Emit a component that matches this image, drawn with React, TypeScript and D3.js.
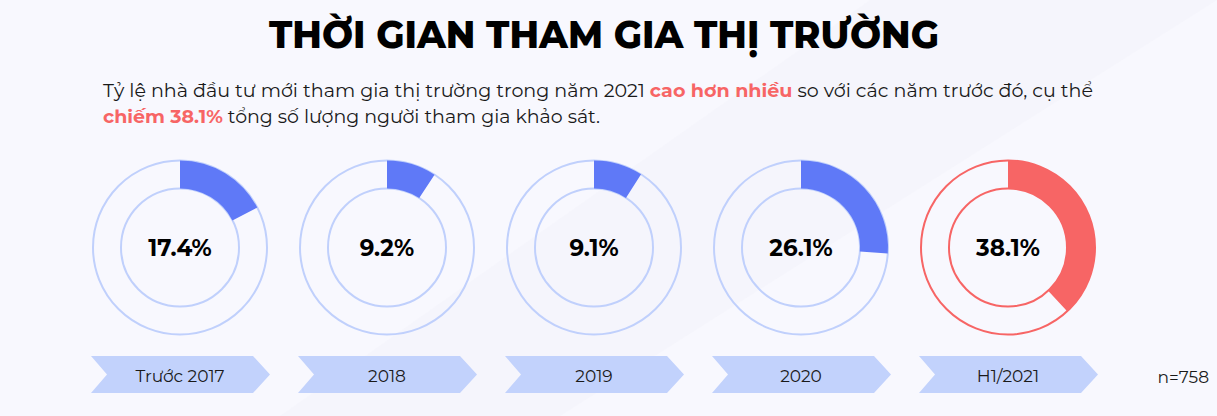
import React from "react";
import * as d3 from "d3";

const categories = ["Trước 2017", "2018", "2019", "2020", "H1/2021"];
const values = [17.4, 9.2, 9.1, 26.1, 38.1];
const highlight = [false, false, false, false, true];
const titleText = "THỜI GIAN THAM GIA THỊ TRƯỜNG";
const sampleLabel = "n=758";

const W = 1217;
const H = 416;
const FONT = "Montserrat, 'Open Sans', 'Noto Sans', sans-serif";

export default function App() {
  const x = d3.scalePoint<string>().domain(categories).range([180, 1008]);
  const angle = d3.scaleLinear().domain([0, 100]).range([0, 2 * Math.PI]);
  const rOuter = 87;
  const rInner = 59;
  const cy = 247.5;
  const arc = d3.arc<any>().innerRadius(rInner).outerRadius(rOuter);
  const blueLine = "#c0d0fc";
  const blueFill = "#5f79f7";
  const redLine = "#f76565";
  const redFill = "#f76565";
  const bannerFill = "#c2d2fc";

  const bw = 179, bh = 37, notch = 16, tip = 17;
  const bannerPath = (cx: number) => {
    const l = cx - 89, r = l + bw, t = 356, b = t + bh, m = (t + b) / 2;
    return `M${l},${t} L${r - tip},${t} L${r},${m} L${r - tip},${b} L${l},${b} L${l + notch},${m} Z`;
  };

  return (
    <svg width={W} height={H} style={{ position: "absolute", left: 0, top: 0 }}>
      <rect width={W} height={H} fill="#f8f8fe" />
      <polygon points="870,0 1217,0 1217,0 560,416 280,416" fill="#f4f3fa" opacity={0.6} />
      <text x={604} y={48} textAnchor="middle" fontFamily={FONT} fontWeight={800} fontSize={38}
        textLength={670} lengthAdjust="spacingAndGlyphs" fill="#000">{titleText}</text>
      <text x={103} y={97} fontFamily={FONT} fontSize={18} fill="#1a1a1a" textLength={990} lengthAdjust="spacingAndGlyphs">
        <tspan>Tỷ lệ nhà đầu tư mới tham gia thị trường trong năm 2021 </tspan>
        <tspan fill="#f76565" fontWeight={700}>cao hơn nhiều</tspan>
        <tspan> so với các năm trước đó, cụ thể</tspan>
      </text>
      <text x={103} y={123} fontFamily={FONT} fontSize={18} fill="#1a1a1a" textLength={497} lengthAdjust="spacingAndGlyphs">
        <tspan fill="#f76565" fontWeight={700}>chiếm 38.1%</tspan>
        <tspan> tổng số lượng người tham gia khảo sát.</tspan>
      </text>
      {categories.map((c, i) => {
        const cx = x(c) as number;
        const line = highlight[i] ? redLine : blueLine;
        const fill = highlight[i] ? redFill : blueFill;
        return (
          <g key={c}>
            <g transform={`translate(${cx},${cy})`}>
              <circle r={rOuter} fill="none" stroke={line} strokeWidth={2} />
              <circle r={rInner} fill="none" stroke={line} strokeWidth={2} />
              <path d={arc({ startAngle: 0, endAngle: angle(values[i]) }) as string} fill={fill} />
              <text y={8} textAnchor="middle" fontFamily={FONT} fontWeight={700} fontSize={23} fill="#000">
                {values[i].toFixed(1)}%
              </text>
            </g>
            <path d={bannerPath(cx)} fill={bannerFill} />
            <text x={cx} y={382} textAnchor="middle" fontFamily={FONT} fontSize={17} fill="#1a1a1a">{c}</text>
          </g>
        );
      })}
      <text x={1209} y={383} textAnchor="end" fontFamily={FONT} fontSize={17} fill="#1a1a1a">{sampleLabel}</text>
    </svg>
  );
}
